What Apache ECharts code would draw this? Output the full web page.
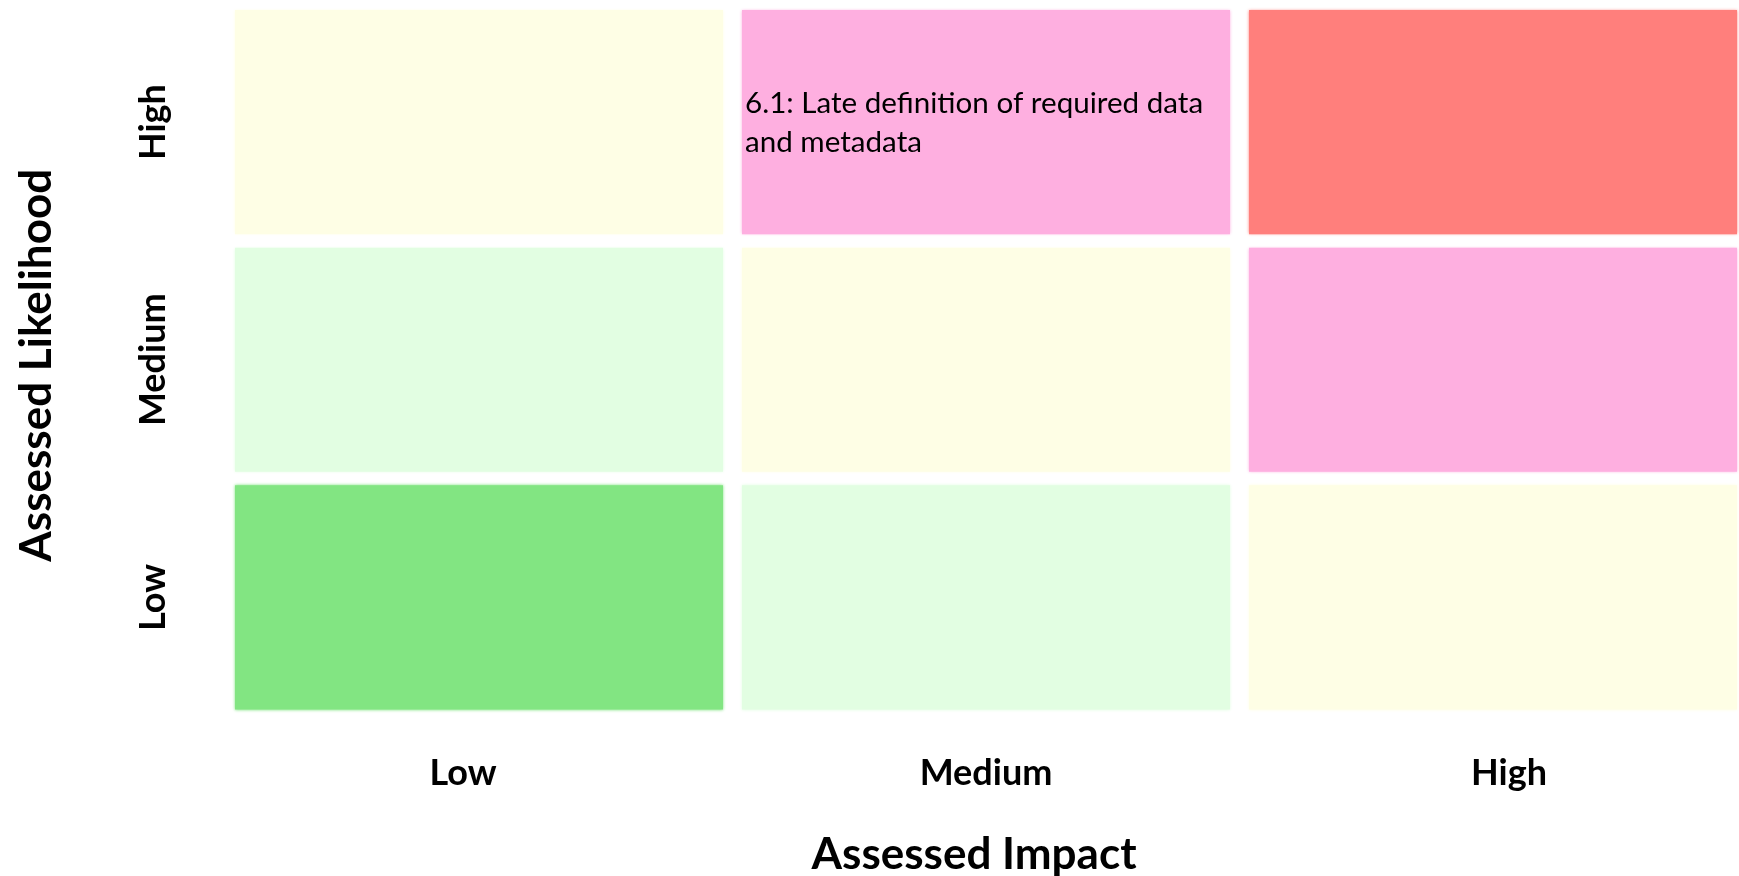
<!DOCTYPE html>
<html>
<head>
<meta charset="utf-8">
<title>Risk Matrix</title>
<script src="https://cdn.jsdelivr.net/npm/echarts@6/dist/echarts.min.js"></script>
<style>
  html, body { margin: 0; padding: 0; background: #ffffff; }
  #chart { width: 1739px; height: 876px; }
</style>
</head>
<body>
<div id="chart"></div>
<script>
// Axis categories (impact left→right, likelihood bottom→top)
const impactLevels = ['Low', 'Medium', 'High'];
const likelihoodLevels = ['Low', 'Medium', 'High'];

// Rating of each cell: [impact index, likelihood index, rating]
const cellRatings = [
  [0, 0, 'veryLow'], [1, 0, 'low'],    [2, 0, 'moderate'],
  [0, 1, 'low'],     [1, 1, 'moderate'], [2, 1, 'significant'],
  [0, 2, 'moderate'], [1, 2, 'significant'], [2, 2, 'severe']
];

// Registered risks placed in the matrix
const riskImpact = ['Medium'];
const riskLikelihood = ['High'];
const riskText = ['6.1: Late definition of required data\nand metadata'];

const ratingColors = {
  veryLow: '#82e582',
  low: '#e2fee2',
  moderate: '#fefee5',
  significant: '#feafe0',
  severe: '#ff7f7c'
};

// white gutter left of each column and between rows
const GAP_X = 19;
const GAP_Y = 13.5;
const FONT = 'Lato, "Open Sans", sans-serif';

const riskLabels = {};
riskText.forEach((t, i) => {
  const key = impactLevels.indexOf(riskImpact[i]) + '_' + likelihoodLevels.indexOf(riskLikelihood[i]);
  riskLabels[key] = (riskLabels[key] ? riskLabels[key] + '\n' : '') + t;
});

const chart = echarts.init(document.getElementById('chart'));

chart.setOption({
  backgroundColor: '#ffffff',
  animation: false,
  grid: [
    { left: 216, width: 1521, top: 3.25, height: 713, containLabel: false, outerBoundsMode: 'none' },
    { left: 463, width: 1046, top: 3.25, height: 713, containLabel: false, outerBoundsMode: 'none' }
  ],
  xAxis: [
    {
      type: 'category', gridIndex: 0, data: impactLevels,
      axisLine: { show: false }, axisTick: { show: false }, axisLabel: { show: false },
      splitLine: { show: false }
    },
    {
      type: 'category', gridIndex: 1, data: impactLevels, boundaryGap: false,
      axisLine: { show: false }, axisTick: { show: false }, splitLine: { show: false },
      axisLabel: {
        margin: 39, color: '#000', fontFamily: FONT, fontWeight: 'bold', fontSize: 36
      },
      name: 'Assessed Impact', nameLocation: 'middle', nameGap: 117,
      nameTextStyle: {
        color: '#000', fontFamily: FONT, fontWeight: 'bold', fontSize: 44,
        padding: [0, 24, 0, 0]
      }
    }
  ],
  yAxis: [
    {
      type: 'category', gridIndex: 0, data: likelihoodLevels,
      axisLine: { show: false }, axisTick: { show: false }, splitLine: { show: false },
      axisLabel: {
        rotate: 90, margin: 45, color: '#000', fontFamily: FONT, fontWeight: 'bold', fontSize: 36
      },
      name: 'Assessed Likelihood', nameLocation: 'middle', nameRotate: 90, nameGap: 157.5,
      nameTextStyle: {
        color: '#000', fontFamily: FONT, fontWeight: 'bold', fontSize: 44,
        padding: [0, 11, 0, 0]
      }
    },
    {
      type: 'category', gridIndex: 1, data: likelihoodLevels, show: false
    }
  ],
  series: [
    {
      type: 'custom',
      xAxisIndex: 0,
      yAxisIndex: 0,
      data: cellRatings,
      renderItem: function (params, api) {
        const xi = api.value(0);
        const yi = api.value(1);
        const c = api.coord([xi, yi]);
        const s = api.size([1, 1]);
        const w = s[0] - GAP_X;
        const h = s[1] - GAP_Y;
        const x = c[0] - s[0] / 2 + GAP_X;
        const y = c[1] - h / 2;
        const fill = ratingColors[cellRatings[params.dataIndex][2]];
        const children = [{
          type: 'rect',
          shape: { x: x, y: y, width: w, height: h },
          style: { fill: fill, shadowBlur: 3, shadowColor: fill }
        }];
        const label = riskLabels[xi + '_' + yi];
        if (label) {
          children.push({
            type: 'text',
            x: x + 3,
            y: y + 74,
            style: {
              text: label,
              fill: '#000',
              font: '29.6px ' + FONT,
              lineHeight: 39,
              verticalAlign: 'top',
              align: 'left'
            }
          });
        }
        return { type: 'group', children: children };
      }
    }
  ]
});
</script>
</body>
</html>
